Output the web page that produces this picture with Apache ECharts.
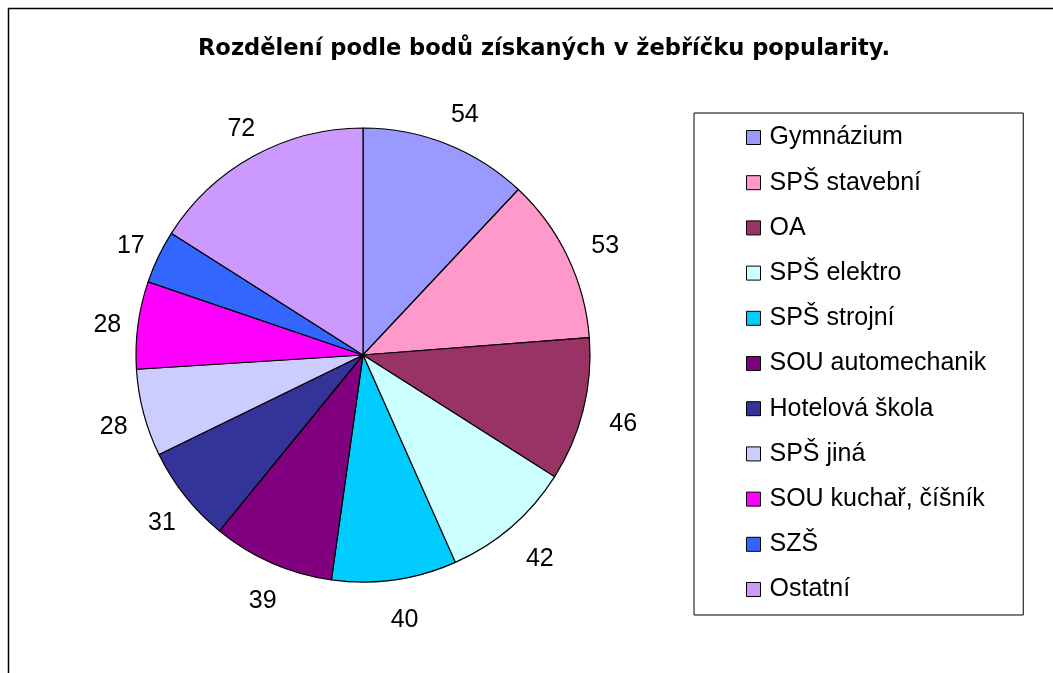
<!DOCTYPE html>
<html>
<head>
<meta charset="utf-8">
<script src="https://cdn.jsdelivr.net/npm/echarts@6/dist/echarts.min.js"></script>
<style>
  html, body { margin: 0; padding: 0; background: #fff; }
  #chart { width: 1053px; height: 673px; }
</style>
</head>
<body>
<div id="chart"></div>
<script>
// kategorie a hodnoty
const categories = ["Gymnázium", "SPŠ stavební", "OA", "SPŠ elektro", "SPŠ strojní",
  "SOU automechanik", "Hotelová škola", "SPŠ jiná", "SOU kuchař, číšník", "SZŠ", "Ostatní"];
const values = [54, 53, 46, 42, 40, 39, 31, 28, 28, 17, 72];
const colors = ["#9999FF", "#FF99CC", "#993366", "#CCFFFF", "#00CCFF",
  "#800080", "#333399", "#CCCCFF", "#FF00FF", "#3366FF", "#CC99FF"];
const titleText = "Rozdělení podle bodů získaných v žebříčku popularity.";

const font = "'Liberation Sans', Arial, sans-serif";
const pieData = categories.map((name, i) => ({ name: name, value: values[i] }));

const chart = echarts.init(document.getElementById("chart"));
const option = {
  animation: false,
  color: colors,
  title: {
    text: titleText,
    left: 539,
    textAlign: "center",
    top: 33,
    textStyle: { fontFamily: "'DejaVu Sans', sans-serif", fontSize: 22.6, fontWeight: "bold", color: "#000" },
  },
  // rámeček grafu
  graphic: [{
    type: "rect",
    shape: { x: 8.5, y: 8.5, width: 1200, height: 1000 },
    style: { fill: "none", stroke: "#000", lineWidth: 1.5 },
    silent: true,
  }],
  legend: {
    orient: "vertical",
    left: 694,
    top: 113,
    data: categories,
    icon: "rect",
    itemWidth: 14,
    itemHeight: 14,
    itemGap: 20.2,
    padding: [12, 37, 13, 52],
    borderColor: "#000",
    borderWidth: 1,
    itemStyle: { borderColor: "#000", borderWidth: 1 },
    textStyle: { fontFamily: font, fontSize: 25, color: "#000", padding: [0, 0, 0, 4] },
  },
  series: [{
    type: "pie",
    center: [363, 355],
    radius: 227,
    startAngle: 90,
    clockwise: true,
    itemStyle: { borderColor: "#000", borderWidth: 1.2 },
    label: { show: false },
    labelLine: { show: false },
    emphasis: { disabled: true },
    data: pieData,
  }, {
    // neviditelný prstenec jen pro popisky (vycentrované kolem r + 33)
    type: "pie",
    center: [363, 355],
    radius: [227, 293],
    startAngle: 90,
    clockwise: true,
    silent: true,
    itemStyle: { color: "rgba(0,0,0,0)", borderWidth: 0 },
    label: {
      show: true,
      position: "inside",
      formatter: "{c}",
      offset: [5, 5],
      fontFamily: font,
      fontSize: 25,
      color: "#000",
    },
    labelLine: { show: false },
    emphasis: { disabled: true },
    data: pieData,
  }],
};
chart.setOption(option);
</script>
</body>
</html>
